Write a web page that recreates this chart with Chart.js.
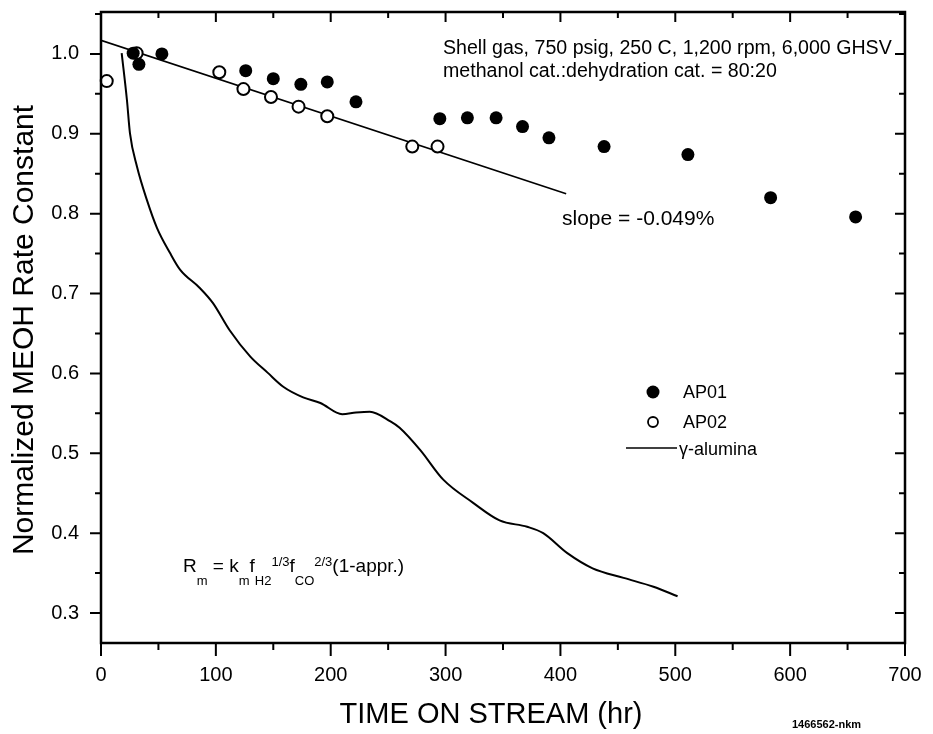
<!DOCTYPE html>
<html>
<head>
<meta charset="utf-8">
<script src="https://cdn.jsdelivr.net/npm/chart.js@4"></script>
<style>
    html, body { margin: 0; padding: 0; background: #fff; }
    #wrap { width: 933px; height: 734px; }
</style>
</head>
<body>
<div id="wrap"><canvas id="meohGrafik"></canvas></div>
<script>
// values
const ap01Hours = [28, 33, 53, 126, 150, 174, 197, 222, 295, 319, 344, 367, 390, 438, 511, 583, 657];
const ap01Rate = [1.001, 0.987, 1.0, 0.979, 0.969, 0.962, 0.965, 0.940, 0.919, 0.920, 0.920, 0.909, 0.895, 0.884, 0.874, 0.820, 0.796];

const ap02Hours = [5, 31, 103, 124, 148, 172, 197, 271, 293];
const ap02Rate = [0.966, 1.001, 0.977, 0.956, 0.946, 0.934, 0.922, 0.884, 0.884];

const aluminaHours = [18, 22.6, 25.2, 31.3, 40, 48.8, 60, 68.8, 86, 97.5, 112, 130, 145, 159, 176, 191, 210, 222, 234, 252, 260, 278, 298, 324, 347, 371, 385, 406, 428, 455, 481, 502];
const aluminaRate = [1.001, 0.942, 0.901, 0.859, 0.817, 0.782, 0.751, 0.730, 0.707, 0.688, 0.654, 0.621, 0.601, 0.583, 0.570, 0.563, 0.549, 0.551, 0.552, 0.540, 0.532, 0.504, 0.467, 0.438, 0.416, 0.408, 0.400, 0.375, 0.356, 0.344, 0.333, 0.321];

const slopeHours = [0, 405];
const slopeRate = [1.017, 0.825];

const xTicks = [0, 100, 200, 300, 400, 500, 600, 700];
const yTicks = [0.3, 0.4, 0.5, 0.6, 0.7, 0.8, 0.9, 1.0];

const FONT = "'Liberation Sans', Arial, Helvetica, sans-serif";

const toPoints = (xs, ys) => xs.map((x, i) => ({ x, y: ys[i] }));

// kutu, ara çentikler, yazılar
const framePlugin = {
    id: 'frame',
    afterDatasetsDraw(chart) {
        const { ctx, chartArea: a, scales } = chart;
        const xs = scales.x, ys = scales.y;
        ctx.save();
        ctx.strokeStyle = '#000';
        ctx.fillStyle = '#000';
        ctx.lineWidth = 2.5;
        ctx.strokeRect(a.left, a.top, a.right - a.left, a.bottom - a.top);

        ctx.lineWidth = 2;
        ctx.beginPath();
        // x ticks (majors + halfway minors)
        xTicks.forEach((v, i) => {
            const marks = [[v, true]];
            if (i < xTicks.length - 1) marks.push([(v + xTicks[i + 1]) / 2, false]);
            marks.forEach(([val, major]) => {
                const px = xs.getPixelForValue(val);
                ctx.moveTo(px, a.bottom); ctx.lineTo(px, a.bottom + (major ? 13 : 7));
                ctx.moveTo(px, a.top); ctx.lineTo(px, a.top + (major ? 10 : 6));
            });
        });
        // y ticks
        const yMarks = [];
        yTicks.forEach((v, i) => {
            yMarks.push([v, true]);
            if (i < yTicks.length - 1) yMarks.push([(v + yTicks[i + 1]) / 2, false]);
        });
        yMarks.push([yTicks[0] - 0.05, false]);
        yMarks.push([yTicks[yTicks.length - 1] + 0.05, false]);
        yMarks.forEach(([val, major]) => {
            if (val < ys.min || val > ys.max) return;
            const py = ys.getPixelForValue(val);
            ctx.moveTo(a.left, py); ctx.lineTo(a.left - (major ? 11 : 6), py);
            ctx.moveTo(a.right, py); ctx.lineTo(a.right - (major ? 10 : 6), py);
        });
        ctx.stroke();

        // axis titles
        ctx.textBaseline = 'alphabetic';
        ctx.textAlign = 'center';
        ctx.font = `29px ${FONT}`;
        ctx.fillText('TIME ON STREAM (hr)', 491, 723);
        ctx.save();
        ctx.translate(33, 330);
        ctx.rotate(-Math.PI / 2);
        ctx.font = `30px ${FONT}`;
        ctx.fillText('Normalized MEOH Rate Constant', 0, 0);
        ctx.restore();

        // conditions
        ctx.textAlign = 'left';
        ctx.font = `19.6px ${FONT}`;
        ctx.fillText('Shell gas, 750 psig, 250 C, 1,200 rpm, 6,000 GHSV', 443, 54);
        ctx.fillText('methanol cat.:dehydration cat. = 80:20', 443, 77);

        ctx.font = `21px ${FONT}`;
        ctx.fillText('slope = -0.049%', 562, 225);

        // rate expression with sub/superscripts
        const parts = [
            ['R', 19, 0], ['m', 13, 13], [' = k', 19, 0], ['m', 13, 13],
            ['f', 19, 0], ['H2', 13, 13], ['1/3', 13, -6],
            ['f', 19, 0], ['CO', 13, 13], ['2/3', 13, -6], ['(1-appr.)', 19, 0],
        ];
        let fx = 183;
        parts.forEach(([t, size, dy]) => {
            ctx.font = `${size}px ${FONT}`;
            ctx.fillText(t, fx, 572 + dy);
            fx += ctx.measureText(t).width;
        });

        // legend
        ctx.font = `18px ${FONT}`;
        ctx.beginPath();
        ctx.arc(653, 392, 6.5, 0, Math.PI * 2);
        ctx.fill();
        ctx.fillText('AP01', 683, 398);
        ctx.beginPath();
        ctx.lineWidth = 1.8;
        ctx.arc(653, 422, 5, 0, Math.PI * 2);
        ctx.stroke();
        ctx.fillText('AP02', 683, 428);
        ctx.beginPath();
        ctx.lineWidth = 1.5;
        ctx.moveTo(626, 448); ctx.lineTo(677, 448);
        ctx.stroke();
        ctx.fillText('\u03B3-alumina', 679, 455);

        ctx.font = `bold 11px ${FONT}`;
        ctx.fillText('1466562-nkm', 792, 728);
        ctx.restore();
    }
};

document.addEventListener('DOMContentLoaded', () => {
    const ctx = document.getElementById('meohGrafik')?.getContext('2d');
    if (!ctx) {
        console.error('meohGrafik bulunamadı!');
        return;
    }

    new Chart(ctx, {
        type: 'scatter',
        data: {
            datasets: [
                {
                    label: 'AP01',
                    data: toPoints(ap01Hours, ap01Rate),
                    pointRadius: 6.5,
                    pointBackgroundColor: '#000',
                    pointBorderColor: '#000',
                    pointBorderWidth: 0,
                    clip: false,
                },
                {
                    label: 'AP02',
                    data: toPoints(ap02Hours, ap02Rate),
                    pointRadius: 6,
                    pointBackgroundColor: '#fff',
                    pointBorderColor: '#000',
                    pointBorderWidth: 2,
                    clip: false,
                },
                {
                    label: 'γ-alumina',
                    data: toPoints(aluminaHours, aluminaRate),
                    showLine: true,
                    pointRadius: 0,
                    borderColor: '#000',
                    borderWidth: 2,
                    cubicInterpolationMode: 'monotone',
                },
                {
                    label: 'slope',
                    data: toPoints(slopeHours, slopeRate),
                    showLine: true,
                    pointRadius: 0,
                    borderColor: '#000',
                    borderWidth: 1.6,
                },
            ],
        },
        options: {
            responsive: true,
            maintainAspectRatio: false,
            animation: false,
            layout: { padding: { top: 12, right: 28, left: 0, bottom: 0 } },
            plugins: {
                legend: { display: false },
                tooltip: { enabled: false },
            },
            scales: {
                x: {
                    type: 'linear',
                    min: 0,
                    max: 700,
                    afterBuildTicks: s => { s.ticks = xTicks.map(v => ({ value: v })); },
                    afterFit: s => {
                        s.height = 91;
                        s.paddingLeft = 0; s.paddingRight = 0;
                        s.paddingTop = 0; s.paddingBottom = 0;
                    },
                    grid: { display: false, drawTicks: false },
                    border: { display: false },
                    ticks: {
                        color: '#000',
                        padding: 20,
                        maxRotation: 0,
                        font: { family: FONT, size: 20 },
                        callback: v => String(v),
                    },
                },
                y: {
                    type: 'linear',
                    min: 0.2625,
                    max: 1.0525,
                    afterBuildTicks: s => { s.ticks = yTicks.map(v => ({ value: v })); },
                    afterFit: s => {
                        s.width = 101;
                        s.paddingLeft = 0; s.paddingRight = 0;
                        s.paddingTop = 0; s.paddingBottom = 0;
                    },
                    grid: { display: false, drawTicks: false },
                    border: { display: false },
                    ticks: {
                        color: '#000',
                        padding: 22,
                        font: { family: FONT, size: 20 },
                        callback: v => v.toFixed(1),
                    },
                },
            },
        },
        plugins: [framePlugin],
    });
});
</script>
</body>
</html>
